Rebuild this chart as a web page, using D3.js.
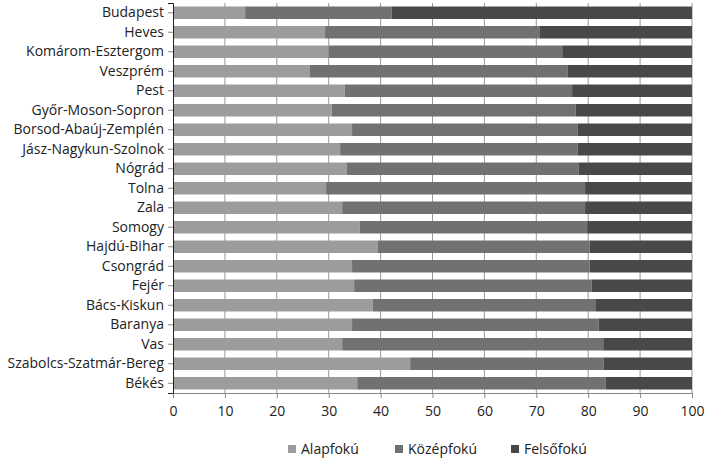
<!DOCTYPE html>
<html>
<head>
<meta charset="utf-8">
<script src="https://cdn.jsdelivr.net/npm/d3@7"></script>
<style>
  body { margin: 0; background: #fff; }
  text { font-family: "Open Sans", sans-serif; fill: #222; }
</style>
</head>
<body>
<svg id="chart" width="710" height="464"></svg>
<script>
// megyék, felülről lefelé
var counties = ['Budapest', 'Heves', 'Komárom-Esztergom', 'Veszprém', 'Pest', 'Győr-Moson-Sopron',
    'Borsod-Abaúj-Zemplén', 'Jász-Nagykun-Szolnok', 'Nógrád', 'Tolna', 'Zala', 'Somogy',
    'Hajdú-Bihar', 'Csongrád', 'Fejér', 'Bács-Kiskun', 'Baranya', 'Vas',
    'Szabolcs-Szatmár-Bereg', 'Békés'];
var alapfoku = [13.9, 29.3, 30.0, 26.4, 33.1, 30.6, 34.5, 32.2, 33.5, 29.5, 32.6, 36.0,
    39.5, 34.5, 34.9, 38.5, 34.5, 32.6, 45.7, 35.5];
var kozepfoku = [28.2, 41.4, 45.0, 49.6, 43.8, 47.0, 43.5, 45.8, 44.7, 49.9, 46.8, 43.8,
    40.8, 45.8, 45.8, 43.0, 47.5, 50.3, 37.3, 47.9];
var felsofoku = counties.map(function (c, i) { return 100 - alapfoku[i] - kozepfoku[i]; });
var seriesNames = ['Alapfokú', 'Középfokú', 'Felsőfokú'];
var colors = ['#9c9c9c', '#717171', '#484848'];
var xTicks = [0, 10, 20, 30, 40, 50, 60, 70, 80, 90, 100];

var svg = d3.select('#chart');
var x = d3.scaleLinear().domain([0, 100]).range([173, 692]);
var y = d3.scaleBand().domain(counties).range([3, 393]).paddingInner(0.36).paddingOuter(0.18);

// függőleges rácsvonalak
svg.append('g')
    .selectAll('line')
    .data(xTicks.slice(1))
    .enter().append('line')
    .attr('x1', function (d) { return x(d); })
    .attr('x2', function (d) { return x(d); })
    .attr('y1', 3).attr('y2', 393)
    .attr('stroke', '#999');

var rows = counties.map(function (c, i) {
    return { county: c, Alapfokú: alapfoku[i], Középfokú: kozepfoku[i], Felsőfokú: felsofoku[i] };
});
var stacked = d3.stack().keys(seriesNames)(rows);

svg.selectAll('g.series')
    .data(stacked)
    .enter().append('g')
    .attr('fill', function (d, i) { return colors[i]; })
    .selectAll('rect')
    .data(function (d) { return d; })
    .enter().append('rect')
    .attr('x', function (d) { return x(d[0]); })
    .attr('width', function (d) { return x(d[1]) - x(d[0]); })
    .attr('y', function (d) { return y(d.data.county); })
    .attr('height', y.bandwidth());

var xAxis = svg.append('g')
    .attr('transform', 'translate(0,393)')
    .call(d3.axisBottom(x).tickValues(xTicks).tickSize(5).tickPadding(8));
xAxis.select('.domain').attr('stroke', '#888');
xAxis.selectAll('line').attr('stroke', '#888');
xAxis.selectAll('text').style('font-size', '14px');

var yAxis = svg.append('g')
    .attr('transform', 'translate(173,0)')
    .call(d3.axisLeft(y).tickSize(5).tickPadding(4));
yAxis.select('.domain').attr('stroke', '#222');
yAxis.selectAll('line').attr('stroke', '#888');
yAxis.selectAll('text').style('font-size', '14px');

var legend = svg.append('g').attr('transform', 'translate(288,449)');
var offsets = [0, 107, 223];
seriesNames.forEach(function (name, i) {
    var g = legend.append('g').attr('transform', 'translate(' + offsets[i] + ',0)');
    g.append('rect').attr('x', 0).attr('y', -4).attr('width', 8).attr('height', 8).attr('fill', colors[i]);
    g.append('text').attr('x', 13).attr('y', 5).style('font-size', '14px').text(name);
});
</script>
</body>
</html>
